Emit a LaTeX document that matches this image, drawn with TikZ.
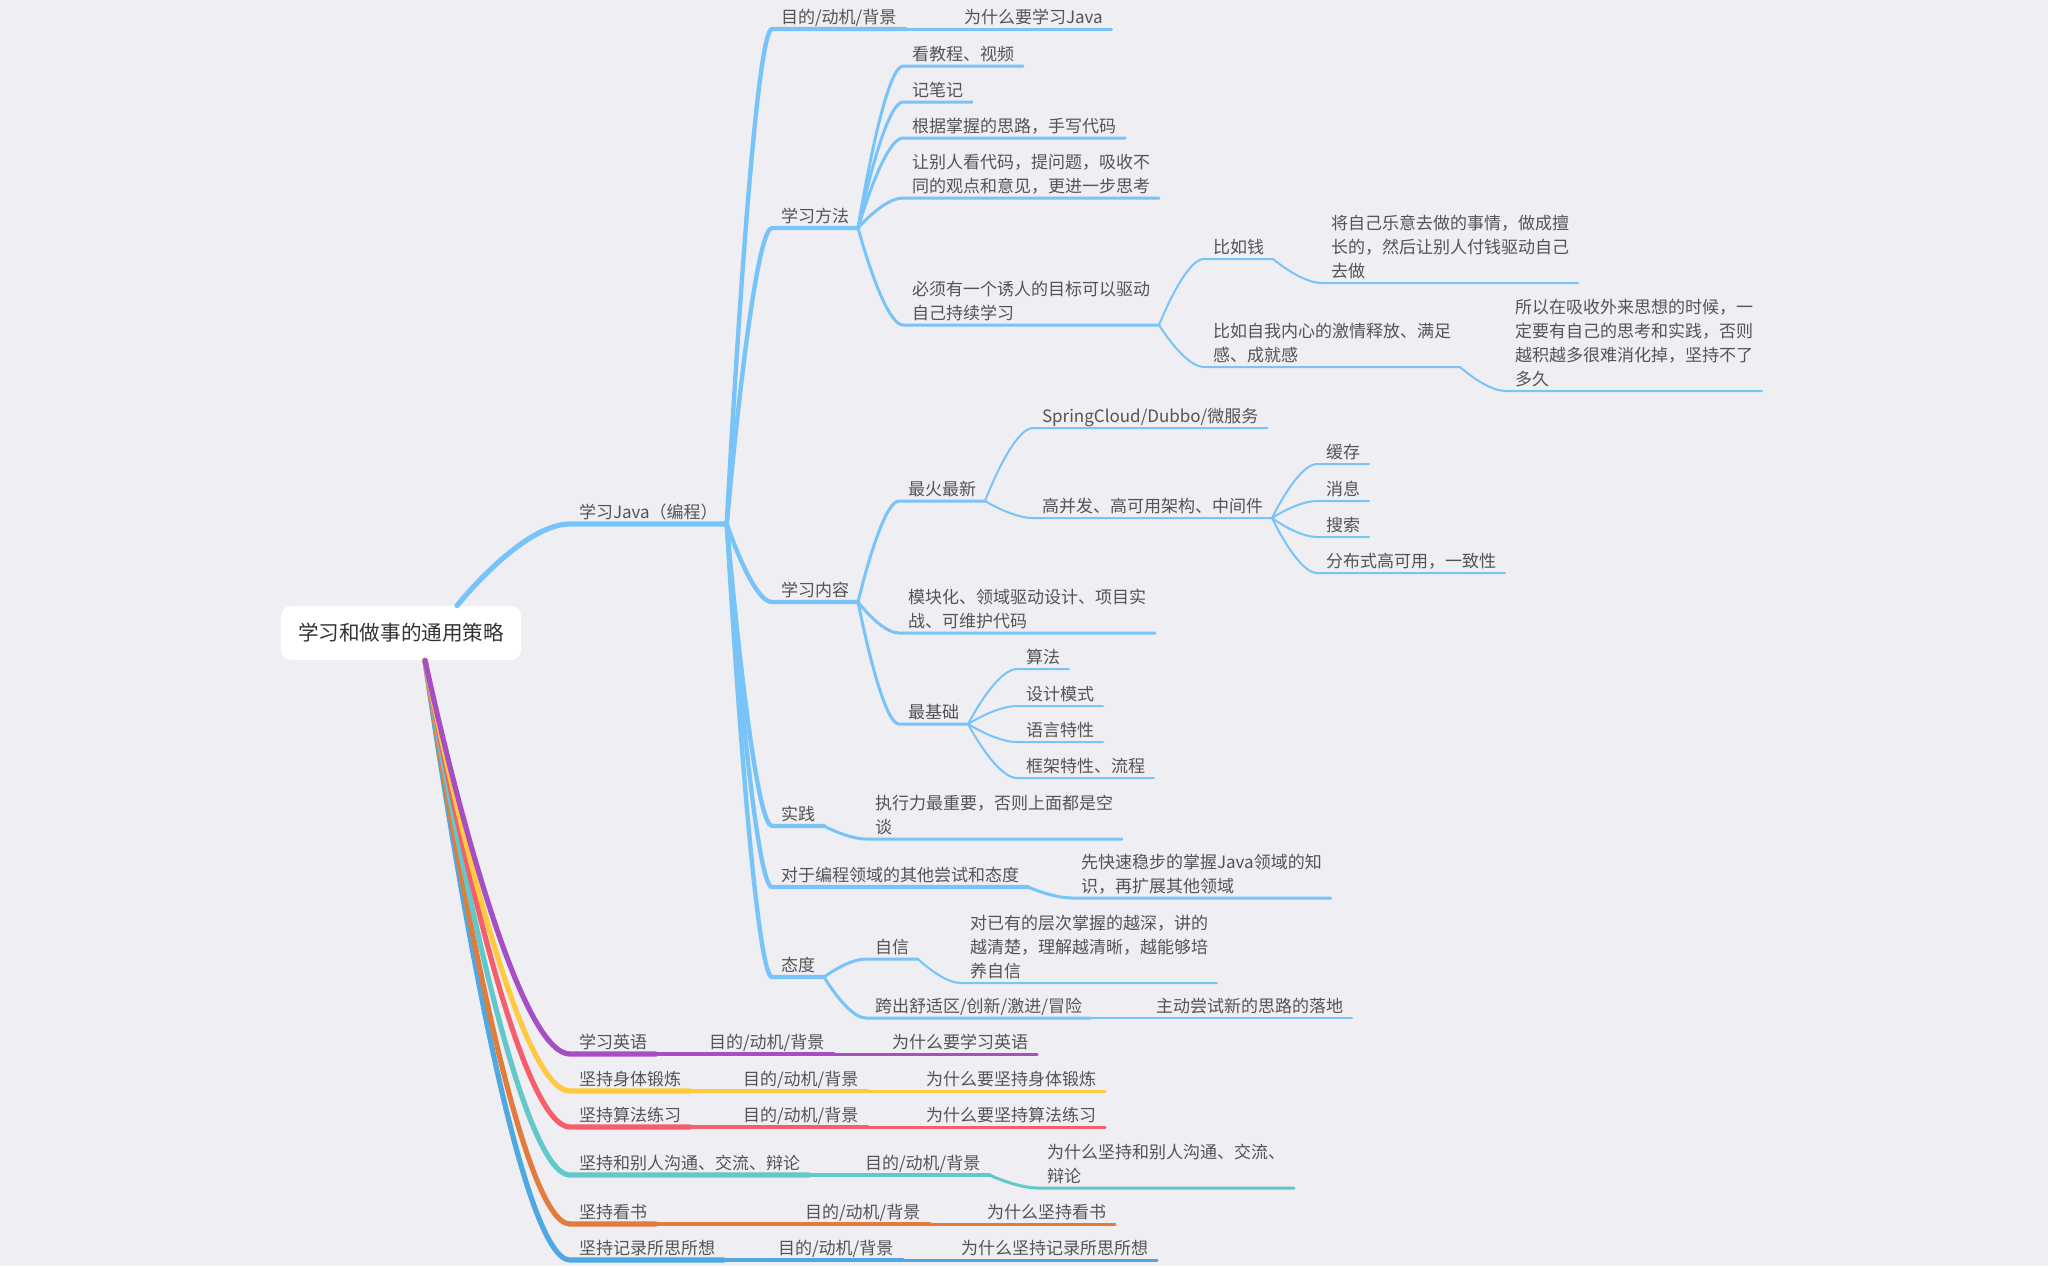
\documentclass[tikz,border=0pt]{standalone}
\usepackage{fontspec}
\setmainfont{Noto Sans CJK SC}
\usetikzlibrary{calc,positioning}
\definecolor{bgcol}{RGB}{238,238,243}
\definecolor{txtgray}{RGB}{84,84,84}
\definecolor{javablue}{RGB}{120,196,248}
\definecolor{enpurple}{RGB}{166,78,196}
\definecolor{fityellow}{RGB}{255,202,64}
\definecolor{algred}{RGB}{246,94,108}
\definecolor{talkteal}{RGB}{98,200,202}
\definecolor{bookorange}{RGB}{226,124,60}
\definecolor{recblue}{RGB}{80,168,224}

\tikzset{
  central/.style={fill=white, rounded corners=5pt, minimum width=120pt, minimum height=27pt, text=black!80, font=\fontsize{10.3}{12}\selectfont},
  topic/.style={anchor=south west, inner xsep=4.5pt, inner ysep=2pt, text depth=1pt, outer sep=0pt, text=txtgray, align=left, font=\fontsize{8.5}{12}\selectfont},
  curve/.style={to path={let \p1=(\tikztostart), \p2=(\tikztotarget) in
      .. controls ({\x1+.3*(\x2-\x1)},{\y1+.5*(\y2-\y1)}) and ({\x1+.7*(\x2-\x1)},\y2) .. (\tikztotarget)}},
  lone/.style={line width=2.6pt, line cap=round},
  ltwo/.style={line width=2.2pt, line cap=round},
  lthree/.style={line width=1.5pt, line cap=round},
  lfour/.style={line width=1pt, line cap=round}
}

\begin{document}
\begin{tikzpicture}[x=0.5pt, y=-0.5pt]
\path[use as bounding box, fill=bgcol] (0,0) rectangle (2048,1266);

\node[central] (root) at (401,633) {学习和做事的通用策略};

% Java
\node[topic] (java) at (570,524) {学习Java（编程）};
\node[topic] (goal) at (772,29) {目的/动机/背景};
\node[topic] (why) at (955,29) {为什么要学习Java};
\node[topic] (method) at (772,228) {学习方法};
\node[topic] (watch) at (903,66) {看教程、视频};
\node[topic] (notes) at (903,102) {记笔记};
\node[topic] (handcode) at (903,138) {根据掌握的思路，手写代码};
\node[topic] (review) at (903,198) {让别人看代码，提问题，吸收不\\同的观点和意见，更进一步思考};
\node[topic] (target) at (903,325) {必须有一个诱人的目标可以驱动\\自己持续学习};
\node[topic] (money) at (1204,259) {比如钱};
\node[topic] (skill) at (1322,283) {将自己乐意去做的事情，做成擅\\长的，然后让别人付钱驱动自己\\去做};
\node[topic] (passion) at (1204,367) {比如自我内心的激情释放、满足\\感、成就感};
\node[topic] (digest) at (1506,391) {所以在吸收外来思想的时候，一\\定要有自己的思考和实践，否则\\越积越多很难消化掉，坚持不了\\多久};
\node[topic] (content) at (772,602) {学习内容};
\node[topic] (hot) at (899,501) {最火最新};
\node[topic] (spring) at (1033,428) {SpringCloud/Dubbo/微服务};
\node[topic] (arch) at (1033,518) {高并发、高可用架构、中间件};
\node[topic] (cache) at (1317,464) {缓存};
\node[topic] (mq) at (1317,501) {消息};
\node[topic] (search) at (1317,537) {搜索};
\node[topic] (dist) at (1317,573) {分布式高可用，一致性};
\node[topic] (ddd) at (899,633) {模块化、领域驱动设计、项目实\\战、可维护代码};
\node[topic] (basic) at (899,724) {最基础};
\node[topic] (algo) at (1017,669) {算法};
\node[topic] (pattern) at (1017,706) {设计模式};
\node[topic] (lang) at (1017,742) {语言特性};
\node[topic] (frame) at (1017,778) {框架特性、流程};
\node[topic] (practice) at (772,826) {实践};
\node[topic] (execute) at (866,839) {执行力最重要，否则上面都是空\\谈};
\node[topic] (other) at (772,887) {对于编程领域的其他尝试和态度};
\node[topic] (first) at (1072,898) {先快速稳步的掌握Java领域的知\\识，再扩展其他领域};
\node[topic] (attitude) at (772,977) {态度};
\node[topic] (confident) at (866,959) {自信};
\node[topic] (deeper) at (961,983) {对已有的层次掌握的越深，讲的\\越清楚，理解越清晰，越能够培\\养自信};
\node[topic] (comfort) at (866,1018) {跨出舒适区/创新/激进/冒险};
\node[topic] (try) at (1147,1018) {主动尝试新的思路的落地};

% other habits
\node[topic] (english) at (570,1054) {学习英语};
\node[topic] (engoal) at (700,1054) {目的/动机/背景};
\node[topic] (enwhy) at (883,1054) {为什么要学习英语};
\node[topic] (sport) at (570,1091) {坚持身体锻炼};
\node[topic] (sportgoal) at (734,1091) {目的/动机/背景};
\node[topic] (sportwhy) at (917,1091) {为什么要坚持身体锻炼};
\node[topic] (leet) at (570,1127) {坚持算法练习};
\node[topic] (leetgoal) at (734,1127) {目的/动机/背景};
\node[topic] (leetwhy) at (917,1127) {为什么要坚持算法练习};
\node[topic] (talk) at (570,1175) {坚持和别人沟通、交流、辩论};
\node[topic] (talkgoal) at (856,1175) {目的/动机/背景};
\node[topic] (talkwhy) at (1038,1188) {为什么坚持和别人沟通、交流、\\辩论};
\node[topic] (read) at (570,1224) {坚持看书};
\node[topic] (readgoal) at (796,1224) {目的/动机/背景};
\node[topic] (readwhy) at (978,1224) {为什么坚持看书};
\node[topic] (record) at (570,1260) {坚持记录所思所想};
\node[topic] (recordgoal) at (769,1260) {目的/动机/背景};
\node[topic] (recordwhy) at (952,1260) {为什么坚持记录所思所想};

% links
\draw[lone,javablue] ([xshift=28pt]root.north) to[curve] (java.south west) -- (java.south east);
\foreach \nd in {goal,method,content,practice,other,attitude}
  \draw[ltwo,javablue] (java.south east) to[curve] (\nd.south west) -- (\nd.south east);
\draw[lthree,javablue] (goal.south east) to[curve] (why.south west) -- (why.south east);
\foreach \nd in {watch,notes,handcode,review,target}
  \draw[lthree,javablue] (method.south east) to[curve] (\nd.south west) -- (\nd.south east);
\foreach \nd in {money,passion}
  \draw[lfour,javablue] (target.south east) to[curve] (\nd.south west) -- (\nd.south east);
\draw[lfour,javablue] (money.south east) to[curve] (skill.south west) -- (skill.south east);
\draw[lfour,javablue] (passion.south east) to[curve] (digest.south west) -- (digest.south east);
\foreach \nd in {hot,ddd,basic}
  \draw[lthree,javablue] (content.south east) to[curve] (\nd.south west) -- (\nd.south east);
\foreach \nd in {spring,arch}
  \draw[lfour,javablue] (hot.south east) to[curve] (\nd.south west) -- (\nd.south east);
\foreach \nd in {cache,mq,search,dist}
  \draw[lfour,javablue] (arch.south east) to[curve] (\nd.south west) -- (\nd.south east);
\foreach \nd in {algo,pattern,lang,frame}
  \draw[lfour,javablue] (basic.south east) to[curve] (\nd.south west) -- (\nd.south east);
\draw[lthree,javablue] (practice.south east) to[curve] (execute.south west) -- (execute.south east);
\draw[lthree,javablue] (other.south east) to[curve] (first.south west) -- (first.south east);
\foreach \nd in {confident,comfort}
  \draw[lthree,javablue] (attitude.south east) to[curve] (\nd.south west) -- (\nd.south east);
\draw[lfour,javablue] (confident.south east) to[curve] (deeper.south west) -- (deeper.south east);
\draw[lfour,javablue] (comfort.south east) to[curve] (try.south west) -- (try.south east);

\foreach \ta/\tb/\tc/\col in {record/recordgoal/recordwhy/recblue, read/readgoal/readwhy/bookorange,
    talk/talkgoal/talkwhy/talkteal, leet/leetgoal/leetwhy/algred,
    sport/sportgoal/sportwhy/fityellow, english/engoal/enwhy/enpurple}{
  \draw[lone,\col] ([xshift=12pt]root.south) to[curve] (\ta.south west) -- (\ta.south east);
  \draw[ltwo,\col] (\ta.south east) to[curve] (\tb.south west) -- (\tb.south east);
  \draw[lthree,\col] (\tb.south east) to[curve] (\tc.south west) -- (\tc.south east);
}
\end{tikzpicture}
\end{document}
